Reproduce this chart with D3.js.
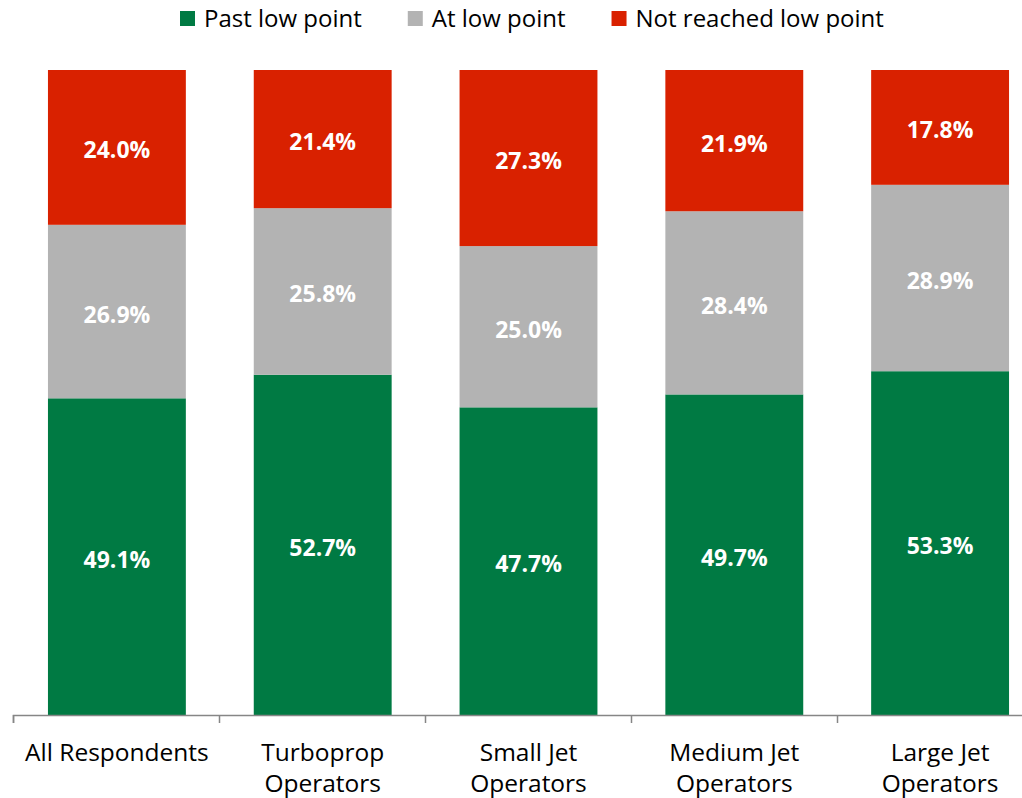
<!DOCTYPE html>
<html>
<head>
<meta charset="utf-8">
<script src="https://cdn.jsdelivr.net/npm/d3@7"></script>
<style>
  html, body { margin: 0; padding: 0; background: #fff; }
  svg { display: block; font-family: "Open Sans", sans-serif; }
</style>
</head>
<body>
<svg id="chart" width="1022" height="798"></svg>
<script>
const categories = [
  ["All Respondents"],
  ["Turboprop", "Operators"],
  ["Small Jet", "Operators"],
  ["Medium Jet", "Operators"],
  ["Large Jet", "Operators"]
];
const seriesNames = ["Past low point", "At low point", "Not reached low point"];
const pastLow = [49.1, 52.7, 47.7, 49.7, 53.3];
const atLow = [26.9, 25.8, 25.0, 28.4, 28.9];
const notReached = [24.0, 21.4, 27.3, 21.9, 17.8];
const colors = ["#007A43", "#B3B3B3", "#D92100"];

const svg = d3.select("#chart");
const W = 1022, H = 798;
const margin = { left: 14, right: -21, top: 70, bottom: 83 };
const x0 = margin.left, x1 = W - margin.right;
const yTop = margin.top, yBot = H - margin.bottom;

const keys = ["past", "at", "not"];
const rows = categories.map((c, i) => ({
  idx: i, past: pastLow[i], at: atLow[i], not: notReached[i]
}));
const stack = d3.stack().keys(keys).offset(d3.stackOffsetExpand);
const series = stack(rows);

const x = d3.scaleBand().domain(d3.range(categories.length)).range([x0, x1])
  .paddingInner(0.33).paddingOuter(0.165);
const y = d3.scaleLinear().domain([0, 1]).range([yBot, yTop]);

const g = svg.append("g");
series.forEach((s, si) => {
  const grp = g.append("g").attr("fill", colors[si]);
  grp.selectAll("rect").data(s).join("rect")
    .attr("x", d => x(d.data.idx))
    .attr("width", x.bandwidth())
    .attr("y", d => y(d[1]))
    .attr("height", d => y(d[0]) - y(d[1]));
  g.append("g").selectAll("text").data(s).join("text")
    .attr("x", d => x(d.data.idx) + x.bandwidth() / 2)
    .attr("y", d => (y(d[0]) + y(d[1])) / 2)
    .attr("dy", "0.48em")
    .attr("text-anchor", "middle")
    .attr("fill", "#fff")
    .attr("font-weight", "bold")
    .attr("font-size", 23)
    .text(d => d.data[keys[si]].toFixed(1) + "%");
});

// axis
const axisX = d3.scaleLinear().domain([0, categories.length]).range([x0 - 1, x1]);
const axisG = svg.append("g").attr("transform", `translate(0,${yBot})`)
  .call(d3.axisBottom(axisX).tickValues(d3.range(categories.length + 1)).tickSize(8).tickFormat(""));
axisG.select(".domain").attr("stroke", "#868686").attr("stroke-width", 1.5);
axisG.selectAll(".tick line").attr("stroke", "#868686").attr("stroke-width", 1.5);

// category labels
const lab = svg.append("g");
categories.forEach((lines, i) => {
  const t = lab.append("text")
    .attr("x", x(i) + x.bandwidth() / 2)
    .attr("y", 761)
    .attr("text-anchor", "middle")
    .attr("font-size", 24.5)
    .attr("fill", "#000");
  lines.forEach((ln, li) => {
    t.append("tspan").attr("x", x(i) + x.bandwidth() / 2)
      .attr("y", 761 + li * 31).text(ln);
  });
});

// legend
const leg = svg.append("g");
let lx = 180;
seriesNames.forEach((n, i) => {
  leg.append("rect").attr("x", lx).attr("y", 11).attr("width", 15).attr("height", 15).attr("fill", colors[i]);
  const t = leg.append("text").attr("x", lx + 24).attr("y", 27)
    .attr("font-size", 24).attr("fill", "#000").text(n);
  const w = t.node().getComputedTextLength();
  lx = lx + 24 + w + 46;
});
</script>
</body>
</html>
